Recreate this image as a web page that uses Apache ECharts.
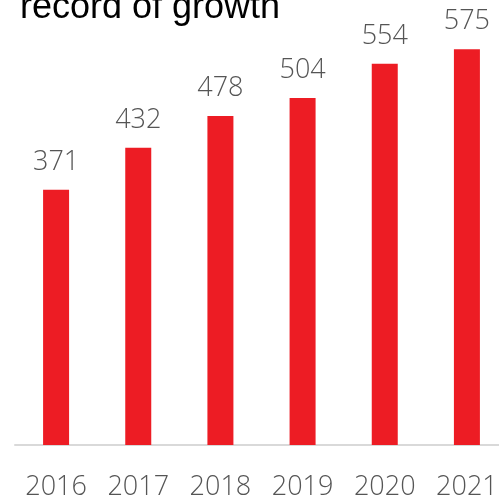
<!DOCTYPE html>
<html>
<head>
<meta charset="utf-8">
<script src="https://cdn.jsdelivr.net/npm/echarts@6/dist/echarts.min.js"></script>
<style>html,body{margin:0;padding:0;background:#fff;}#c{width:499px;height:500px;}</style>
</head>
<body>
<div id="c"></div>
<script>
var categories = ['2016', '2017', '2018', '2019', '2020', '2021'];
var values = [371, 432, 478, 504, 554, 575];
var titleText = 'record of growth';

var chart = echarts.init(document.getElementById('c'), null, {renderer: 'canvas'});
chart.setOption({
  animation: false,
  title: {
    text: titleText,
    left: 15,
    top: -15,
    textStyle: {fontFamily: 'Liberation Sans, Arial, sans-serif', fontSize: 36, fontWeight: 'normal', color: '#000'}
  },
  grid: {left: 15, right: -9, top: 32, bottom: 55, containLabel: false, outerBoundsMode: 'none'},
  xAxis: {
    type: 'category',
    data: categories,
    axisLine: {show: true, lineStyle: {color: '#d9d9d9', width: 2}},
    axisTick: {show: false},
    axisLabel: {fontFamily: 'Open Sans, sans-serif', fontWeight: 300, fontSize: 27, color: '#555555', margin: 29}
  },
  yAxis: {
    type: 'value',
    min: 0,
    max: 600,
    show: false,
    splitLine: {show: false}
  },
  series: [{
    type: 'bar',
    data: values,
    barWidth: 26,
    itemStyle: {color: '#ED1C24'},
    label: {show: true, position: 'top', distance: 14, fontFamily: 'Open Sans, sans-serif', fontWeight: 300, fontSize: 27, color: '#555555'}
  }]
});
</script>
</body>
</html>
